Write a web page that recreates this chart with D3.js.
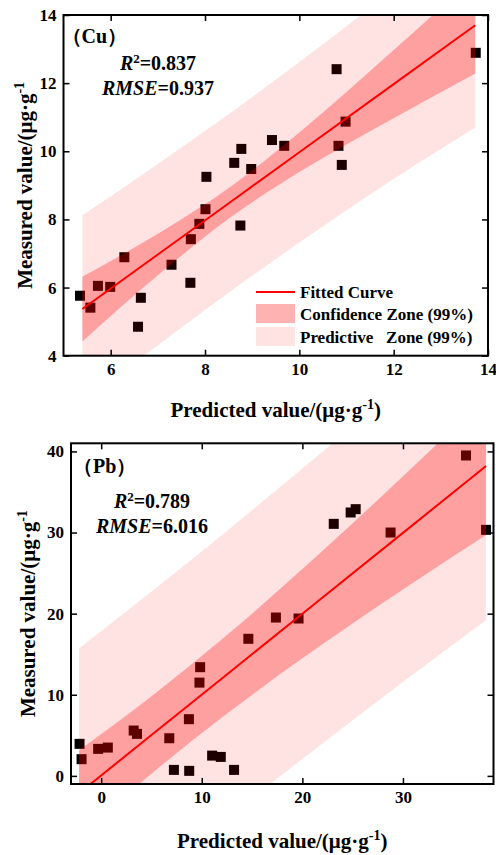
<!DOCTYPE html>
<html>
<head>
<meta charset="utf-8">
<script src="https://cdn.jsdelivr.net/npm/d3@7"></script>
<style>
  html, body { margin: 0; padding: 0; background: #fff; }
  svg { display: block; font-family: 'Liberation Serif', 'Times New Roman', serif; font-weight: bold; }
</style>
</head>
<body>
<div id="chart"></div>
<script>
/* global d3 */

// Cu panel, values
const cuPredicted = [5.35, 5.57, 5.73, 5.99, 6.29, 6.64, 6.58, 7.29, 7.69, 7.70, 7.88, 8.01, 8.03, 8.75, 8.62, 8.77, 8.98, 9.42, 9.68, 10.83, 10.90, 10.98, 10.79, 13.74]
const cuMeasured = [5.76, 5.41, 6.05, 6.02, 6.89, 5.70, 4.85, 6.67, 6.14, 7.42, 7.87, 8.30, 9.25, 7.82, 9.66, 10.07, 9.48, 10.33, 10.16, 10.16, 9.60, 10.87, 12.41, 12.89]
const cuBandX = [5.4, 7, 8.6, 10, 12, 13.73]
const cuFit = [5.37, 6.97, 8.57, 9.97, 11.97, 13.70]
const cuConfLow = [4.42, 6.36, 8.12, 9.39, 10.97, 12.28]
const cuConfHigh = [6.32, 7.58, 9.02, 10.55, 12.97, 15.12]
const cuPredLow = [2.62, 4.31, 5.95, 7.32, 9.19, 10.70]
const cuPredHigh = [8.12, 9.63, 11.19, 12.62, 14.75, 16.70]
const cuXTicks = [6, 8, 10, 12, 14]
const cuYTicks = [4, 6, 8, 10, 12, 14]

// Pb panel
const pbPredicted = [-2.15, -1.95, -0.3, 0.66, 3.23, 3.56, 6.77, 8.72, 7.23, 8.75, 11.03, 11.89, 13.21, 9.84, 9.77, 14.63, 17.37, 19.62, 23.12, 24.8, 25.3, 28.77, 36.27, 38.26]
const pbMeasured = [3.95, 2.06, 3.33, 3.49, 5.59, 5.18, 4.64, 6.99, 0.74, 0.62, 2.5, 2.34, 0.74, 13.4, 11.5, 16.9, 19.52, 19.4, 31.07, 32.47, 32.88, 30.0, 39.5, 30.33]
const pbBandX = [-2.2, 5, 12, 20, 30, 38.26]
const pbFit = [-2.14, 5.04, 12.01, 19.99, 29.96, 38.2]
const pbConfLow = [-7.44, 0.26, 7.19, 14.49, 22.98, 29.7]
const pbConfHigh = [3.16, 9.82, 16.83, 25.49, 36.94, 46.7]
const pbPredLow = [-19.99, -12.66, -5.69, 2.09, 11.56, 19.2]
const pbPredHigh = [15.71, 22.74, 29.71, 37.89, 48.36, 57.2]
const pbXTicks = [0, 10, 20, 30]
const pbYTicks = [0, 10, 20, 30, 40]

const legendItems = ['Fitted Curve', 'Confidence Zone (99%)', 'Predictive   Zone (99%)']

const W = 496
const H = 855

const svg = d3.select('#chart')
  .append('svg')
  .attr('width', W)
  .attr('height', H)

svg.append('rect').attr('width', W).attr('height', H).attr('fill', '#fff')

function drawPanel (p) {
  const x = d3.scaleLinear().domain(p.xDomain).range([p.left, p.right])
  const y = d3.scaleLinear().domain(p.yDomain).range([p.bottom, p.top])
  const g = svg.append('g')

  g.append('clipPath').attr('id', p.id + '-clip')
    .append('rect')
    .attr('x', p.left).attr('y', p.top)
    .attr('width', p.right - p.left).attr('height', p.bottom - p.top)

  // squares go under the translucent bands, like in the figure
  const pts = d3.zip(p.predicted, p.measured)
  g.append('g').selectAll('rect')
    .data(pts)
    .join('rect')
    .attr('x', (d) => x(d[0]) - 5)
    .attr('y', (d) => y(d[1]) - 5)
    .attr('width', 10)
    .attr('height', 10)
    .attr('fill', '#000')

  const plot = g.append('g').attr('clip-path', `url(#${p.id}-clip)`)
  const band = (lo, hi) => d3.area()
    .x((d, i) => x(p.bandX[i]))
    .y0((d, i) => y(lo[i]))
    .y1((d, i) => y(hi[i]))
    .curve(d3.curveMonotoneX)(p.bandX)

  plot.append('path').attr('d', band(p.predLow, p.predHigh))
    .attr('fill', '#ff0000').attr('fill-opacity', 0.11)
  plot.append('path').attr('d', band(p.confLow, p.confHigh))
    .attr('fill', '#ff0000').attr('fill-opacity', 0.295)
  plot.append('path')
    .attr('d', d3.line().x((d, i) => x(p.bandX[i])).y((d) => y(d))(p.fit))
    .attr('fill', 'none').attr('stroke', '#ff0000').attr('stroke-width', 2)

  // axes, ticks pointing inwards
  const fmt = d3.format('d')
  const axB = g.append('g').attr('transform', `translate(0,${p.bottom})`)
    .call(d3.axisBottom(x).tickValues(p.xTicks).tickFormat(fmt).tickSizeInner(-6).tickSizeOuter(0).tickPadding(7))
  const axL = g.append('g').attr('transform', `translate(${p.left},0)`)
    .call(d3.axisLeft(y).tickValues(p.yTicks).tickFormat(fmt).tickSizeInner(-6).tickSizeOuter(0).tickPadding(7))
  const axT = g.append('g').attr('transform', `translate(0,${p.top})`)
    .call(d3.axisTop(x).tickValues(p.xTicks).tickFormat('').tickSizeInner(-6).tickSizeOuter(0))
  const axR = g.append('g').attr('transform', `translate(${p.right},0)`)
    .call(d3.axisRight(y).tickValues(p.yTicks).tickFormat('').tickSizeInner(-6).tickSizeOuter(0))
  for (const ax of [axB, axL, axT, axR]) {
    ax.select('.domain').remove()
    ax.selectAll('line').attr('stroke', '#000').attr('stroke-width', 1.5)
    ax.selectAll('text')
      .attr('fill', '#000')
      .style('font-family', "'Liberation Serif', serif")
      .style('font-weight', 'bold')
      .style('font-size', '17px')
  }

  g.append('rect')
    .attr('x', p.left).attr('y', p.top)
    .attr('width', p.right - p.left).attr('height', p.bottom - p.top)
    .attr('fill', 'none').attr('stroke', '#000').attr('stroke-width', 2)

  // axis titles
  const xt = g.append('text')
    .attr('x', (p.left + p.right) / 2)
    .attr('y', p.xTitleY)
    .attr('text-anchor', 'middle')
    .style('font-size', '21px')
  xt.append('tspan').text('Predicted value/(μg·g')
  xt.append('tspan').attr('dy', -8).style('font-size', '14px').text('-1')
  xt.append('tspan').attr('dy', 8).text(')')

  const yt = g.append('text')
    .attr('transform', `translate(${p.yTitleX},${(p.top + p.bottom) / 2}) rotate(-90)`)
    .attr('text-anchor', 'middle')
    .style('font-size', '21px')
  yt.append('tspan').text('Measured value/(μg·g')
  yt.append('tspan').attr('dy', -8).style('font-size', '14px').text('-1')

  // annotations
  g.append('text')
    .attr('x', p.left + p.tagDx)
    .attr('y', p.top + p.tagDy)
    .style('font-size', '20px')
    .text(p.tag)

  const r2 = g.append('text')
    .attr('x', p.statX).attr('y', p.top + p.statDy)
    .attr('text-anchor', 'middle')
    .style('font-size', '20px')
  r2.append('tspan').style('font-style', 'italic').text('R')
  r2.append('tspan').attr('dy', -7).style('font-size', '13px').text('2')
  r2.append('tspan').attr('dy', 7).text('=' + p.r2)

  const rm = g.append('text')
    .attr('x', p.statX).attr('y', p.top + p.statDy + 25)
    .attr('text-anchor', 'middle')
    .style('font-size', '20px')
  rm.append('tspan').style('font-style', 'italic').text('RMSE')
  rm.append('tspan').text('=' + p.rmse)

  return { x, y, g }
}

const cu = drawPanel({
  id: 'cu',
  predicted: cuPredicted,
  measured: cuMeasured,
  bandX: cuBandX,
  fit: cuFit,
  confLow: cuConfLow,
  confHigh: cuConfHigh,
  predLow: cuPredLow,
  predHigh: cuPredHigh,
  xTicks: cuXTicks,
  yTicks: cuYTicks,
  xDomain: [5, 14],
  yDomain: [4, 14],
  left: 63.5,
  right: 488,
  top: 15,
  bottom: 355.7,
  xTitleY: 417,
  yTitleX: 32,
  tag: '（Cu）',
  tagDx: -2,
  tagDy: 28,
  statX: 158,
  statDy: 55,
  r2: '0.837',
  rmse: '0.937'
})

drawPanel({
  id: 'pb',
  predicted: pbPredicted,
  measured: pbMeasured,
  bandX: pbBandX,
  fit: pbFit,
  confLow: pbConfLow,
  confHigh: pbConfHigh,
  predLow: pbPredLow,
  predHigh: pbPredHigh,
  xTicks: pbXTicks,
  yTicks: pbYTicks,
  xDomain: [-3, 39],
  yDomain: [-1, 41],
  left: 71,
  right: 493.5,
  top: 443.3,
  bottom: 784,
  xTitleY: 848,
  yTitleX: 35,
  tag: '（Pb）',
  tagDx: 2,
  tagDy: 30,
  statX: 152,
  statDy: 65,
  r2: '0.789',
  rmse: '6.016'
})

// legend in the Cu panel
const leg = cu.g.append('g').attr('transform', 'translate(256,292)')
leg.append('line').attr('x1', 0).attr('x2', 39).attr('y1', 0).attr('y2', 0)
  .attr('stroke', '#ff0000').attr('stroke-width', 2)
leg.append('rect').attr('x', 0).attr('y', 12).attr('width', 39).attr('height', 19)
  .attr('fill', '#ff0000').attr('fill-opacity', 0.3)
leg.append('rect').attr('x', 0).attr('y', 35).attr('width', 39).attr('height', 19)
  .attr('fill', '#ff0000').attr('fill-opacity', 0.11)
leg.selectAll('text.item')
  .data(legendItems)
  .join('text')
  .attr('class', 'item')
  .attr('x', 44)
  .attr('y', (d, i) => 6 + i * 22.3)
  .attr('xml:space', 'preserve')
  .style('white-space', 'pre')
  .style('font-size', '17px')
  .text((d) => d)
</script>
</body>
</html>
